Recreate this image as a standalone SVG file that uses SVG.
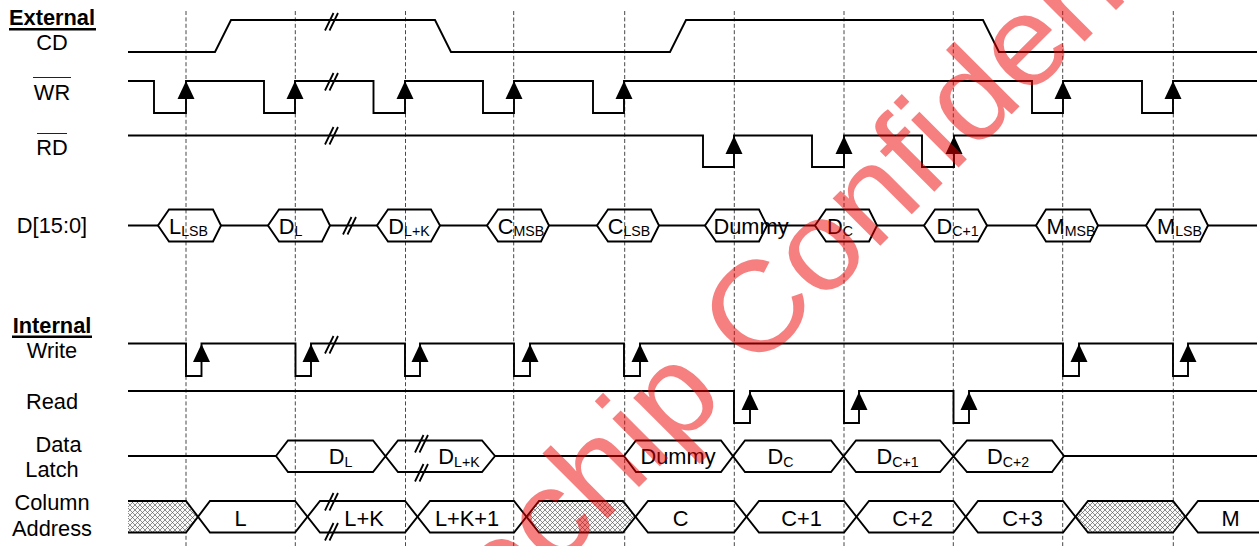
<svg xmlns="http://www.w3.org/2000/svg" width="1259" height="546" viewBox="0 0 1259 546">
<style>
text{font-family:"Liberation Sans",Arial,sans-serif;font-size:21.8px;fill:#000;text-anchor:middle}
.b{font-weight:bold}
.s{font-size:14.2px}
.w{fill:none;stroke:#000;stroke-width:1.9;stroke-linejoin:miter}
.o{fill:none;stroke:#222;stroke-width:1}
.u{fill:none;stroke:#000;stroke-width:2.4}
.g{fill:none;stroke:#333;stroke-width:.9;stroke-dasharray:4 2.4}
.h{fill:url(#hatch);stroke:none}
.wm{font-size:127px;fill:#ee0000;fill-opacity:.5;text-anchor:start}
</style>
<defs>
<pattern id="hatch" patternUnits="userSpaceOnUse" width="5" height="5"><rect width="5" height="5" fill="#fafafa"/><path d="M0 0L5 5M5 0L0 5" stroke="#555" stroke-width=".65"/></pattern>
<polygon id="up" points="0,-1 8.500,17 -8.500,17" fill="#000"/>
<path id="brk" d="M0 17.500L8.500 0M4.500 17.500L13 0" fill="none" stroke="#000" stroke-width="1.8"/>
</defs>
<g id="grid">
<path class="g" d="M186 11V546M295.300 11V546M405.500 11V546M513.700 11V546M624.700 11V546M734.300 11V546M844 11V546M953.300 11V546M1062.700 11V546M1173.300 11V546"/>
</g>
<g id="labels">
<text class="b" x="52" y="25">External</text><path class="u" d="M9 29.200H96"/>
<text x="52" y="50">CD</text>
<text x="52" y="100">WR</text><path class="o" d="M33 77.500H71"/>
<text x="52" y="155">RD</text><path class="o" d="M37 133.500H67"/>
<text x="52" y="233">D[15:0]</text>
<text class="b" x="52" y="333">Internal</text><path class="u" d="M12 336.800H92"/>
<text x="52" y="358">Write</text>
<text x="52" y="409">Read</text>
<text x="58.500" y="452">Data</text>
<text x="52" y="477">Latch</text>
<text x="52" y="510">Column</text>
<text x="52" y="536">Address</text>
</g>
<g id="connectors">
<g id="cd"><polyline class="w" points="128,52 215,52 231,20 435,20 451,52 670,52 686,20 983,20 999,52 1257,52"/><use href="#brk" x="325" y="13"/></g>
<g id="wr"><polyline class="w" points="128,81 154,81 154,113 186,113 186,81 264,81 264,113 295,113 295,81 373.500,81 373.500,113 405,113 405,81 483,81 483,113 514,113 514,81 593,81 593,113 624,113 624,81 1032,81 1032,113 1063,113 1063,81 1142,81 1142,113 1173,113 1173,81 1257,81"/>
<use href="#brk" x="325" y="73"/>
<use href="#up" x="186" y="82"/><use href="#up" x="295" y="82"/><use href="#up" x="405" y="82"/><use href="#up" x="514" y="82"/><use href="#up" x="624" y="82"/><use href="#up" x="1063" y="82"/><use href="#up" x="1173" y="82"/></g>
<g id="rd"><polyline class="w" points="128,135.500 703,135.500 703,167 734,167 734,135.500 812,135.500 812,167 844,167 844,135.500 922,135.500 922,167 954,167 954,135.500 1257,135.500"/>
<use href="#brk" x="325" y="127"/>
<use href="#up" x="734" y="137"/><use href="#up" x="844" y="137"/><use href="#up" x="954" y="137"/></g>
<g id="data-bus">
<path class="w" d="M128 225.500H158M221 225.500H268M330 225.500H377M440 225.500H487M549 225.500H597M659 225.500H705M767 225.500H815M877 225.500H924M987 225.500H1036M1098 225.500H1146M1208 225.500H1257"/>
<path class="w" d="M158 225.500L169 209.500H213L221 225.500L213 241.500H169ZM268 225.500L279 209.500H322L330 225.500L322 241.500H279ZM377 225.500L388 209.500H431L440 225.500L431 241.500H388ZM487 225.500L498 209.500H541L549 225.500L541 241.500H498ZM597 225.500L608 209.500H651L659 225.500L651 241.500H608ZM705 225.500L716 209.500H759L767 225.500L759 241.500H716ZM815 225.500L826 209.500H869L877 225.500L869 241.500H826ZM924 225.500L935 209.500H978L987 225.500L978 241.500H935ZM1036 225.500L1046 209.500H1090L1098 225.500L1090 241.500H1046ZM1146 225.500L1156 209.500H1200L1208 225.500L1200 241.500H1156Z"/>
<use href="#brk" x="343" y="217"/>
<text x="188.500" y="233.500">L<tspan class="s" dy="2.500">LSB</tspan></text>
<text x="290.500" y="233.500">D<tspan class="s" dy="2.500">L</tspan></text>
<text x="409" y="233.500">D<tspan class="s" dy="2.500">L+K</tspan></text>
<text x="521" y="233.500">C<tspan class="s" dy="2.500">MSB</tspan></text>
<text x="629" y="233.500">C<tspan class="s" dy="2.500">LSB</tspan></text>
<text x="751" y="233.500">Dummy</text>
<text x="840" y="233.500">D<tspan class="s" dy="2.500">C</tspan></text>
<text x="957.500" y="233.500">D<tspan class="s" dy="2.500">C+1</tspan></text>
<text x="1071" y="233.500">M<tspan class="s" dy="2.500">MSB</tspan></text>
<text x="1179.500" y="233.500">M<tspan class="s" dy="2.500">LSB</tspan></text>
</g>
<g id="write"><polyline class="w" points="128,343.500 186,343.500 186,376 201.500,376 201.500,343.500 295.500,343.500 295.500,376 311,376 311,343.500 405,343.500 405,376 420,376 420,343.500 514,343.500 514,376 530,376 530,343.500 624,343.500 624,376 640,376 640,343.500 1063,343.500 1063,376 1079,376 1079,343.500 1173,343.500 1173,376 1188,376 1188,343.500 1257,343.500"/>
<use href="#brk" x="325" y="336"/>
<use href="#up" x="201.500" y="345"/><use href="#up" x="311" y="345"/><use href="#up" x="420" y="345"/><use href="#up" x="530" y="345"/><use href="#up" x="640" y="345"/><use href="#up" x="1079" y="345"/><use href="#up" x="1188" y="345"/></g>
<g id="read"><polyline class="w" points="128,391 734,391 734,423 750,423 750,391 844,391 844,423 859,423 859,391 953.500,391 953.500,423 969,423 969,391 1257,391"/>
<use href="#up" x="750" y="393"/><use href="#up" x="859" y="393"/><use href="#up" x="969" y="393"/></g>
<g id="data-latch">
<path class="w" d="M128 456H276M495 456H624M1064 456H1257"/>
<path class="w" d="M276 456L288 440.500H373L398 472H482L495 456L482 440.500H398L373 472H288ZM624 456L636 440.500H721L745 472H831L856 440.500H940L967 472H1052L1064 456L1052 440.500H967L940 472H856L831 440.500H745L721 472H636Z"/>
<use href="#brk" x="415" y="435"/><use href="#brk" x="415" y="464"/>
<text x="340.500" y="464">D<tspan class="s" dy="2.500">L</tspan></text>
<text x="459" y="464">D<tspan class="s" dy="2.500">L+K</tspan></text>
<text x="678" y="464">Dummy</text>
<text x="780.500" y="464">D<tspan class="s" dy="2.500">C</tspan></text>
<text x="897.500" y="464">D<tspan class="s" dy="2.500">C+1</tspan></text>
<text x="1008" y="464">D<tspan class="s" dy="2.500">C+2</tspan></text>
</g>
<g id="column-address">
<polygon class="h" points="128,501 186,501 199,517 186,532.500 128,532.500"/>
<polygon class="h" points="527,517 539,501 623,501 636,517 623,532.500 539,532.500"/>
<polygon class="h" points="1076,517 1088,501 1173,501 1185,517 1173,532.500 1088,532.500"/>
<path class="w" d="M128 501H186L210 532.500H295L320 501H405L430 532.500H514L539 501H623L648 532.500H734L759 501H844L869 532.500H953.500L978 501H1063L1088 532.500H1173L1198 501H1259"/>
<path class="w" d="M128 532.500H186L210 501H295L320 532.500H405L430 501H514L539 532.500H623L648 501H734L759 532.500H844L869 501H953.500L978 532.500H1063L1088 501H1173L1198 532.500H1259"/>
<use href="#brk" x="325" y="493"/><use href="#brk" x="325" y="523"/>
<text x="240.500" y="526">L</text>
<text x="364" y="526">L+K</text>
<text x="467" y="526">L+K+1</text>
<text x="680.500" y="526">C</text>
<text x="801.500" y="526">C+1</text>
<text x="912.500" y="526">C+2</text>
<text x="1022.500" y="526">C+3</text>
<text x="1230.500" y="526">M</text>
</g>
</g>
<text id="watermark" class="wm" transform="translate(323.500 802.500) rotate(-45) scale(1.05 1)">Microchip Confidential</text>
</svg>
